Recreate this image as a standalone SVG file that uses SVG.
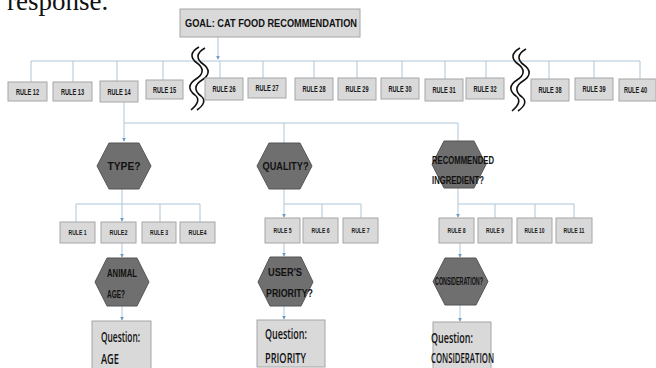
<svg xmlns="http://www.w3.org/2000/svg" width="656" height="368" viewBox="0 0 656 368">
<style>
.bg{fill:#ffffff}
.box{fill:#d9d9d9;stroke:#a6a6a6;stroke-width:1}
.hex{fill:#6f6f6f;stroke:#555555;stroke-width:1}
.ln{fill:none;stroke:#adc6d8;stroke-width:1}
.ar{fill:none;stroke:#adc6d8;stroke-width:1;marker-end:url(#arr)}
.brk{fill:none;stroke:#111111;stroke-width:1.6}
.t{font-family:"Liberation Sans",Arial,sans-serif;fill:#111111}
.r{font-family:"Liberation Sans",Arial,sans-serif;fill:#1a1a1a;font-size:8.5px;font-weight:bold;text-anchor:middle}
.s2{font-size:7.5px}
.goal{font-size:11.5px;font-weight:bold;text-anchor:middle}
.hx{font-size:11.5px;font-weight:bold}
.q{font-family:"Open Sans","Liberation Sans",sans-serif;font-size:14px;font-weight:600;fill:#111111}
</style>
<defs>
<marker id="arr" viewBox="0 0 6 6" refX="5" refY="3" markerWidth="4" markerHeight="4" orient="auto" markerUnits="userSpaceOnUse">
<path d="M0,0 L6,3 L0,6 z" fill="#6f9cc4"/>
</marker>
</defs>
<rect class="bg" x="0" y="0" width="656" height="368"/>
<text x="7" y="10" font-family="Liberation Serif,serif" font-size="27" fill="#111">response.</text>

<g id="connectors">
  <line class="ar" x1="218" y1="37" x2="218" y2="59"/>
  <line class="ln" x1="31" y1="61" x2="640" y2="61"/>
  <line class="ln" x1="31" y1="61" x2="31" y2="82"/>
  <line class="ln" x1="73" y1="61" x2="73" y2="82"/>
  <line class="ln" x1="117" y1="61" x2="117" y2="81"/>
  <line class="ln" x1="163" y1="61" x2="163" y2="80"/>
  <line class="ln" x1="220" y1="61" x2="220" y2="78"/>
  <line class="ln" x1="263" y1="61" x2="263" y2="78"/>
  <line class="ln" x1="314" y1="61" x2="314" y2="78"/>
  <line class="ln" x1="357" y1="61" x2="357" y2="78"/>
  <line class="ln" x1="402" y1="61" x2="402" y2="78"/>
  <line class="ln" x1="445" y1="61" x2="445" y2="79"/>
  <line class="ln" x1="486" y1="61" x2="486" y2="78"/>
  <line class="ln" x1="549" y1="61" x2="549" y2="79"/>
  <line class="ln" x1="594" y1="61" x2="594" y2="78"/>
  <line class="ln" x1="640" y1="61" x2="640" y2="79"/>

  <line class="ln" x1="124" y1="102" x2="124" y2="123"/>
  <line class="ln" x1="124" y1="123" x2="458" y2="123"/>
  <line class="ar" x1="124" y1="123" x2="124" y2="141"/>
  <line class="ln" x1="284" y1="123" x2="284" y2="143"/>
  <line class="ln" x1="458" y1="123" x2="458" y2="141"/>

  <line class="ln" x1="122" y1="189" x2="122" y2="204"/>
  <line class="ln" x1="76" y1="204" x2="200" y2="204"/>
  <line class="ln" x1="76" y1="204" x2="76" y2="222"/>
  <line class="ar" x1="122" y1="204" x2="122" y2="221"/>
  <line class="ln" x1="160" y1="204" x2="160" y2="222"/>
  <line class="ln" x1="200" y1="204" x2="200" y2="222"/>

  <line class="ln" x1="284" y1="189" x2="284" y2="204"/>
  <line class="ln" x1="284" y1="204" x2="361" y2="204"/>
  <line class="ar" x1="284" y1="204" x2="284" y2="217"/>
  <line class="ln" x1="322" y1="204" x2="322" y2="218"/>
  <line class="ln" x1="361" y1="204" x2="361" y2="218"/>

  <line class="ln" x1="458" y1="188" x2="458" y2="204"/>
  <line class="ln" x1="458" y1="204" x2="574" y2="204"/>
  <line class="ar" x1="458" y1="204" x2="458" y2="217"/>
  <line class="ln" x1="495" y1="204" x2="495" y2="218"/>
  <line class="ln" x1="535" y1="204" x2="535" y2="218"/>
  <line class="ln" x1="574" y1="204" x2="574" y2="218"/>

  <line class="ar" x1="122" y1="243" x2="122" y2="257"/>
  <line class="ar" x1="122" y1="306" x2="122" y2="320"/>
  <line class="ar" x1="284" y1="243" x2="284" y2="256"/>
  <line class="ar" x1="284" y1="306" x2="284" y2="319"/>
  <line class="ar" x1="460" y1="243" x2="460" y2="257"/>
  <line class="ar" x1="460" y1="305" x2="460" y2="321"/>
</g>

<g id="breaks">
  <path class="brk" d="M199,47 c-9,5 -9,11 -2,16 c7,5 7,11 -1,16 c-8,5 -8,11 -1,16 c5,4 3,9 -4,15"/>
  <path class="brk" d="M205,48 c-9,5 -9,11 -2,16 c7,5 7,11 -1,16 c-8,5 -8,11 -1,16 c5,4 3,9 -4,14"/>
  <path class="brk" d="M520,48 c-9,5 -9,11 -2,16 c7,5 7,11 -1,16 c-8,5 -8,11 -1,16 c5,4 3,9 -4,15"/>
  <path class="brk" d="M526,49 c-9,5 -9,11 -2,16 c7,5 7,11 -1,16 c-8,5 -8,11 -1,16 c5,4 3,9 -4,14"/>
</g>

<g id="goal">
  <rect class="box" x="180" y="9" width="180" height="28"/>
  <text class="t goal" x="271" y="27" textLength="172" lengthAdjust="spacingAndGlyphs">GOAL: CAT FOOD RECOMMENDATION</text>
</g>

<g id="rule12"><rect class="box" x="8" y="82" width="39" height="19"/><text class="r" x="27.5" y="95" textLength="23" lengthAdjust="spacingAndGlyphs">RULE 12</text></g>
<g id="rule13"><rect class="box" x="53" y="82" width="39" height="19"/><text class="r" x="72.5" y="95" textLength="23" lengthAdjust="spacingAndGlyphs">RULE 13</text></g>
<g id="rule14"><rect class="box" x="100" y="81" width="38" height="21"/><text class="r" x="119" y="95" textLength="23" lengthAdjust="spacingAndGlyphs">RULE 14</text></g>
<g id="rule15"><rect class="box" x="146" y="80" width="37" height="19"/><text class="r" x="164.5" y="93" textLength="23" lengthAdjust="spacingAndGlyphs">RULE 15</text></g>
<g id="rule26"><rect class="box" x="205" y="78" width="38" height="22"/><text class="r" x="224" y="92" textLength="23" lengthAdjust="spacingAndGlyphs">RULE 26</text></g>
<g id="rule27"><rect class="box" x="248" y="78" width="38" height="20"/><text class="r" x="267" y="91" textLength="23" lengthAdjust="spacingAndGlyphs">RULE 27</text></g>
<g id="rule28"><rect class="box" x="295" y="78" width="38" height="22"/><text class="r" x="314" y="92" textLength="23" lengthAdjust="spacingAndGlyphs">RULE 28</text></g>
<g id="rule29"><rect class="box" x="338" y="78" width="38" height="22"/><text class="r" x="357" y="92" textLength="23" lengthAdjust="spacingAndGlyphs">RULE 29</text></g>
<g id="rule30"><rect class="box" x="381" y="78" width="38" height="21"/><text class="r" x="400" y="91.5" textLength="23" lengthAdjust="spacingAndGlyphs">RULE 30</text></g>
<g id="rule31"><rect class="box" x="425" y="79" width="38" height="22"/><text class="r" x="444" y="93" textLength="23" lengthAdjust="spacingAndGlyphs">RULE 31</text></g>
<g id="rule32"><rect class="box" x="466" y="78" width="38" height="21"/><text class="r" x="485" y="91.5" textLength="23" lengthAdjust="spacingAndGlyphs">RULE 32</text></g>
<g id="rule38"><rect class="box" x="531" y="79" width="38" height="22"/><text class="r" x="550" y="93" textLength="23" lengthAdjust="spacingAndGlyphs">RULE 38</text></g>
<g id="rule39"><rect class="box" x="575" y="78" width="38" height="22"/><text class="r" x="594" y="92" textLength="23" lengthAdjust="spacingAndGlyphs">RULE 39</text></g>
<g id="rule40"><rect class="box" x="619" y="79" width="37" height="22"/><text class="r" x="635.5" y="93" textLength="23" lengthAdjust="spacingAndGlyphs">RULE 40</text></g>

<g id="type"><polygon class="hex" points="97,166 109,143 139,143 151,166 139,189 109,189"/><text class="t hx" x="124" y="170" text-anchor="middle" textLength="33" lengthAdjust="spacingAndGlyphs">TYPE?</text></g>
<g id="quality"><polygon class="hex" points="257,166 269,143 300,143 312,166 300,189 269,189"/><text class="t hx" x="285.5" y="170" text-anchor="middle" textLength="46" lengthAdjust="spacingAndGlyphs">QUALITY?</text></g>
<g id="recommended"><polygon class="hex" points="432,164.5 444,141 474,141 486,164.5 474,188 444,188"/><text class="t hx" x="432" y="164" font-size="10.5" textLength="62" lengthAdjust="spacingAndGlyphs">RECOMMENDED</text><text class="t hx" x="432" y="184" font-size="10.5" textLength="52" lengthAdjust="spacingAndGlyphs">INGREDIENT?</text></g>

<g id="rule1"><rect class="box" x="60" y="222" width="35" height="21"/><text class="r s2" x="77.5" y="235" textLength="18" lengthAdjust="spacingAndGlyphs">RULE 1</text></g>
<g id="rule2"><rect class="box" x="101" y="222" width="35" height="21"/><text class="r s2" x="118.5" y="235" textLength="18" lengthAdjust="spacingAndGlyphs">RULE2</text></g>
<g id="rule3"><rect class="box" x="142" y="222" width="34" height="21"/><text class="r s2" x="159" y="235" textLength="18" lengthAdjust="spacingAndGlyphs">RULE 3</text></g>
<g id="rule4"><rect class="box" x="180" y="222" width="35" height="21"/><text class="r s2" x="197.5" y="235" textLength="18" lengthAdjust="spacingAndGlyphs">RULE4</text></g>
<g id="rule5"><rect class="box" x="265" y="218" width="35" height="25"/><text class="r s2" x="282.5" y="232.5" textLength="18" lengthAdjust="spacingAndGlyphs">RULE 5</text></g>
<g id="rule6"><rect class="box" x="303" y="218" width="35" height="25"/><text class="r s2" x="320.5" y="232.5" textLength="18" lengthAdjust="spacingAndGlyphs">RULE 6</text></g>
<g id="rule7"><rect class="box" x="343" y="218" width="35" height="25"/><text class="r s2" x="360.5" y="232.5" textLength="18" lengthAdjust="spacingAndGlyphs">RULE 7</text></g>
<g id="rule8"><rect class="box" x="439" y="218" width="35" height="25"/><text class="r s2" x="456.5" y="232.5" textLength="18" lengthAdjust="spacingAndGlyphs">RULE 8</text></g>
<g id="rule9"><rect class="box" x="478" y="218" width="34" height="25"/><text class="r s2" x="495" y="232.5" textLength="18" lengthAdjust="spacingAndGlyphs">RULE 9</text></g>
<g id="rule10"><rect class="box" x="517" y="218" width="35" height="25"/><text class="r s2" x="534.5" y="232.5" textLength="20" lengthAdjust="spacingAndGlyphs">RULE 10</text></g>
<g id="rule11"><rect class="box" x="556" y="218" width="36" height="25"/><text class="r s2" x="574" y="232.5" textLength="21" lengthAdjust="spacingAndGlyphs">RULE 11</text></g>

<g id="animal-age"><polygon class="hex" points="95,282 107,258 137,258 149,282 137,306 107,306"/><text class="t hx" x="107" y="277" font-size="11" textLength="30" lengthAdjust="spacingAndGlyphs">ANIMAL</text><text class="t hx" x="107" y="298" font-size="11" textLength="18" lengthAdjust="spacingAndGlyphs">AGE?</text></g>
<g id="users-priority"><polygon class="hex" points="258,282 270,257 301,257 313,282 301,306 270,306"/><text class="t hx" x="268" y="276" font-size="11" textLength="34" lengthAdjust="spacingAndGlyphs">USER'S</text><text class="t hx" x="266" y="297" font-size="11" textLength="47" lengthAdjust="spacingAndGlyphs">PRIORITY?</text></g>
<g id="consideration"><polygon class="hex" points="433,281.5 445,258 476,258 488,281.5 476,305 445,305"/><text class="t hx" x="459" y="284.5" font-size="8" text-anchor="middle" textLength="48" lengthAdjust="spacingAndGlyphs">CONSIDERATION?</text></g>

<g id="question-age"><rect class="box" x="92" y="321" width="59" height="50"/><text class="q" x="101" y="342" textLength="39" lengthAdjust="spacingAndGlyphs">Question:</text><text class="q" x="101" y="364" font-size="13" textLength="18" lengthAdjust="spacingAndGlyphs">AGE</text></g>
<g id="question-priority"><rect class="box" x="257" y="320" width="68" height="47"/><text class="q" x="265" y="339" textLength="42" lengthAdjust="spacingAndGlyphs">Question:</text><text class="q" x="265" y="363" font-size="13" textLength="41" lengthAdjust="spacingAndGlyphs">PRIORITY</text></g>
<g id="question-consideration"><rect class="box" x="433" y="322" width="58" height="49"/><text class="q" x="431" y="343" textLength="42" lengthAdjust="spacingAndGlyphs">Question:</text><text class="q" x="431" y="363" font-size="11" textLength="63" lengthAdjust="spacingAndGlyphs">CONSIDERATION</text></g>
</svg>
